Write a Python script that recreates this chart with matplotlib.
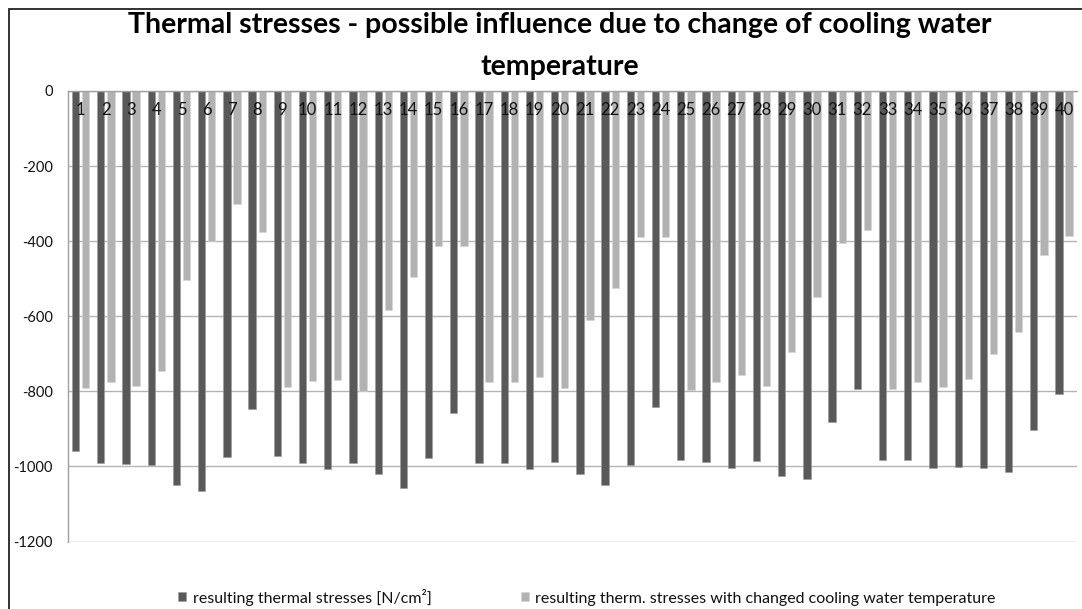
import matplotlib
matplotlib.use("Agg")
import matplotlib.pyplot as plt
from matplotlib.patches import Rectangle
import numpy as np

plt.rcParams['font.family'] = ['Lato', 'DejaVu Sans']

categories = [str(i) for i in range(1, 41)]
thermal = [-958, -991, -993, -997, -1049, -1066, -975, -847, -972, -990,
           -1008, -990, -1021, -1058, -978, -858, -990, -990, -1008, -988,
           -1021, -1050, -996, -842, -983, -987, -1005, -986, -1025, -1034,
           -881, -795, -982, -982, -1005, -1001, -1005, -1014, -902, -807]
changed = [-792, -775, -786, -746, -504, -399, -300, -376, -788, -773,
           -770, -800, -583, -495, -412, -412, -776, -776, -761, -791,
           -611, -525, -389, -389, -797, -774, -757, -786, -694, -550,
           -405, -370, -794, -774, -788, -768, -701, -643, -436, -387]
yticks = [0, -200, -400, -600, -800, -1000, -1200]
title_lines = ["Thermal stresses - possible influence due to change of cooling water",
               "temperature"]
label1 = "resulting thermal stresses [N/cm²]"
label2 = "resulting therm. stresses with changed cooling water temperature"

W, H = 1082, 609
fig = plt.figure(figsize=(W / 100, H / 100), dpi=100)
ax = fig.add_axes([68 / W, 1 - 541.5 / H, (1076.7 - 68) / W, (541.5 - 91) / H])

x = np.arange(1, len(categories) + 1)
w = 0.29
ax.bar(x - 0.2, thermal, width=w, color='#595959', edgecolor='#9a9a9a', linewidth=0.4,
       label=label1, zorder=2)
ax.bar(x + 0.2, changed, width=w, color='#b2b2b2', edgecolor='#d6d6d6', linewidth=0.4,
       label=label2, zorder=2)

ax.set_xlim(0.5, len(categories) + 0.5)
ax.set_ylim(-1200, 0)
ax.set_yticks(yticks)
ax.set_yticklabels([str(v) for v in yticks])
ax.set_xticks([])
ax.tick_params(axis='y', length=0, pad=11, labelsize=10.5, labelcolor='#111111')
ax.yaxis.grid(True, color='#b4b4b4', linewidth=1.0)
ax.set_axisbelow(True)
for s in ['right', 'bottom']:
    ax.spines[s].set_visible(False)
for s in ['top', 'left']:
    ax.spines[s].set_color('#a0a0a0')
    ax.spines[s].set_linewidth(1.0)

for xi, lab in zip(x, categories):
    ax.text(xi, 1 - (110 - 91) / 450.5, lab, transform=ax.get_xaxis_transform(),
            ha='center', va='center', fontsize=12, color='#111111', zorder=3)

tx = 560 / W
fig.text(tx, 1 - 33 / H, title_lines[0], ha='center', va='baseline', fontsize=20.5,
         fontweight='bold', color='black')
fig.text(tx, 1 - 75 / H, title_lines[1], ha='center', va='baseline', fontsize=20.5,
         fontweight='bold', color='black')

leg = fig.legend(loc='center', bbox_to_anchor=(587 / W, 1 - 597 / H), ncol=2, frameon=False,
                 fontsize=11.5, handlelength=0.5, handleheight=0.5, handletextpad=0.4,
                 columnspacing=5.6)
for t in leg.get_texts():
    t.set_color('#111111')

fig.patches.append(Rectangle((9 / W, -0.05), 1.1, 1 - 9 / H + 0.05, transform=fig.transFigure,
                             fill=False, edgecolor='#222222', linewidth=1.3))

fig.savefig("out.png", dpi=100)
